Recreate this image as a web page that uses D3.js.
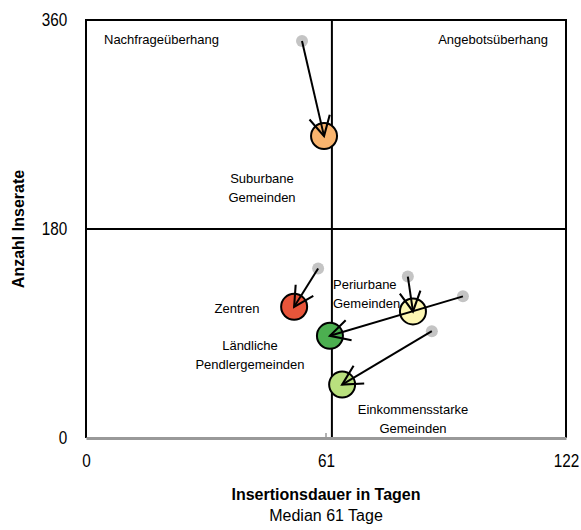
<!DOCTYPE html>
<html>
<head>
<meta charset="utf-8">
<script src="https://cdn.jsdelivr.net/npm/d3@7"></script>
<style>
  body { margin: 0; background: #fff; }
  text { font-family: "Liberation Sans Narrow", "Arial Narrow", "Liberation Sans", Arial, sans-serif; }
</style>
</head>
<body>
<svg id="chart" width="581" height="530"></svg>
<script>
// Gemeindetypen: 2015 (grau) -> aktuell (farbig)
const types = ['Suburbane Gemeinden', 'Zentren', 'Ländliche Pendlergemeinden', 'Periurbane Gemeinden', 'Einkommensstarke Gemeinden'];
const days2015 = [54.9, 59.0, 95.8, 81.8, 87.9];
const ads2015 = [342, 146, 122, 139, 92];
const daysNow = [60.5, 52.9, 62.0, 83.1, 65.1];
const adsNow = [260, 113, 88, 109, 46];
const colors = ['#f9b46e', '#e8553a', '#4caf50', '#fdf7b3', '#b9e07e'];

const xTicks = [0, 61, 122];
const yTicks = [0, 180, 360];
const medianDays = 62.5;   // senkrechte Linie wie im Original leicht rechts von 61
const medianAds = 180;

const svg = d3.select('#chart');
const x = d3.scaleLinear().domain([0, 122]).range([86, 566]);
const y = d3.scaleLinear().domain([0, 360]).range([438, 20]);

// frame
svg.append('path')
    .attr('d', `M${x(0)},${y(0)}V${y(360)}H${x(122)}V${y(0)}`)
    .attr('fill', 'none')
    .attr('stroke', '#000')
    .attr('stroke-width', 2);

// quadrant lines
svg.append('line')
    .attr('x1', x(medianDays)).attr('x2', x(medianDays))
    .attr('y1', y(0)).attr('y2', y(360))
    .attr('stroke', '#000').attr('stroke-width', 2);
svg.append('line')
    .attr('x1', x(0)).attr('x2', x(122))
    .attr('y1', y(medianAds)).attr('y2', y(medianAds))
    .attr('stroke', '#000').attr('stroke-width', 2);

// x axis (grey)
const xAxis = svg.append('g')
    .attr('transform', `translate(0,${y(0)})`)
    .call(d3.axisBottom(x).tickValues(xTicks).tickSize(0).tickPadding(16));
xAxis.select('.domain').attr('stroke', '#999').attr('stroke-width', 3);
xAxis.selectAll('text')
    .attr('font-size', 18).attr('fill', '#000')
    .attr('transform', 'scale(0.85,1)');
svg.append('line')
    .attr('x1', x(61)).attr('x2', x(61))
    .attr('y1', y(0)).attr('y2', y(0) - 5)
    .attr('stroke', '#999').attr('stroke-width', 1.5);

const yAxis = svg.append('g')
    .attr('transform', `translate(${x(0)},0)`)
    .call(d3.axisLeft(y).tickValues(yTicks).tickSize(0));
yAxis.select('.domain').remove();
yAxis.selectAll('text')
    .attr('font-size', 18).attr('fill', '#000')
    .attr('x', -22)
    .attr('transform', 'scale(0.85,1)');

// axis titles
svg.append('text')
    .attr('transform', `translate(24,${y(180)}) rotate(-90)`)
    .attr('text-anchor', 'middle')
    .attr('font-size', 16).attr('font-weight', 'bold')
    .text('Anzahl Inserate');
svg.append('text')
    .attr('x', x(61)).attr('y', 500)
    .attr('text-anchor', 'middle')
    .attr('font-size', 16).attr('font-weight', 'bold')
    .text('Insertionsdauer in Tagen');
svg.append('text')
    .attr('x', x(61)).attr('y', 521)
    .attr('text-anchor', 'middle')
    .attr('font-size', 16)
    .text('Median 61 Tage');

// quadrant labels
svg.append('text').attr('x', 104).attr('y', 44).attr('font-size', 13).text('Nachfrageüberhang');
svg.append('text').attr('x', 548).attr('y', 44).attr('text-anchor', 'end').attr('font-size', 13).text('Angebotsüberhang');

// arrowhead
svg.append('defs').append('marker')
    .attr('id', 'head')
    .attr('markerUnits', 'userSpaceOnUse')
    .attr('viewBox', '0 0 20 20')
    .attr('markerWidth', 26).attr('markerHeight', 26)
    .attr('refX', 18).attr('refY', 10)
    .attr('orient', 'auto')
    .append('path')
    .attr('d', 'M3,2L18,10L3,18')
    .attr('fill', 'none')
    .attr('stroke', '#000')
    .attr('stroke-width', 1.6);

const data = types.map((t, i) => ({
    name: t,
    x0: days2015[i], y0: ads2015[i],
    x1: daysNow[i], y1: adsNow[i],
    color: colors[i]
}));

svg.append('g').selectAll('circle')
    .data(data).enter().append('circle')
    .attr('cx', d => x(d.x0)).attr('cy', d => y(d.y0))
    .attr('r', 6)
    .attr('fill', '#c4c4c4');

svg.append('g').selectAll('circle')
    .data(data).enter().append('circle')
    .attr('cx', d => x(d.x1)).attr('cy', d => y(d.y1))
    .attr('r', 13)
    .attr('fill', d => d.color)
    .attr('stroke', '#000')
    .attr('stroke-width', 2);

svg.append('g').selectAll('line')
    .data(data).enter().append('line')
    .attr('x1', d => x(d.x0)).attr('y1', d => y(d.y0))
    .attr('x2', d => x(d.x1)).attr('y2', d => y(d.y1))
    .attr('stroke', '#000')
    .attr('stroke-width', 2)
    .attr('marker-end', 'url(#head)');

// point labels
const labels = [
    { lines: ['Suburbane', 'Gemeinden'], x: 262, y: 183, anchor: 'middle' },
    { lines: ['Zentren'], x: 237, y: 313, anchor: 'middle' },
    { lines: ['Ländliche', 'Pendlergemeinden'], x: 250, y: 350, anchor: 'middle' },
    { lines: ['Periurbane', 'Gemeinden'], x: 333, y: 289, anchor: 'start' },
    { lines: ['Einkommensstarke', 'Gemeinden'], x: 413, y: 414, anchor: 'middle' }
];
labels.forEach(l => {
    const t = svg.append('text')
        .attr('x', l.x).attr('y', l.y)
        .attr('text-anchor', l.anchor)
        .attr('font-size', 13);
    l.lines.forEach((s, i) => {
        t.append('tspan').attr('x', l.x).attr('dy', i === 0 ? 0 : 19).text(s);
    });
});
</script>
</body>
</html>
